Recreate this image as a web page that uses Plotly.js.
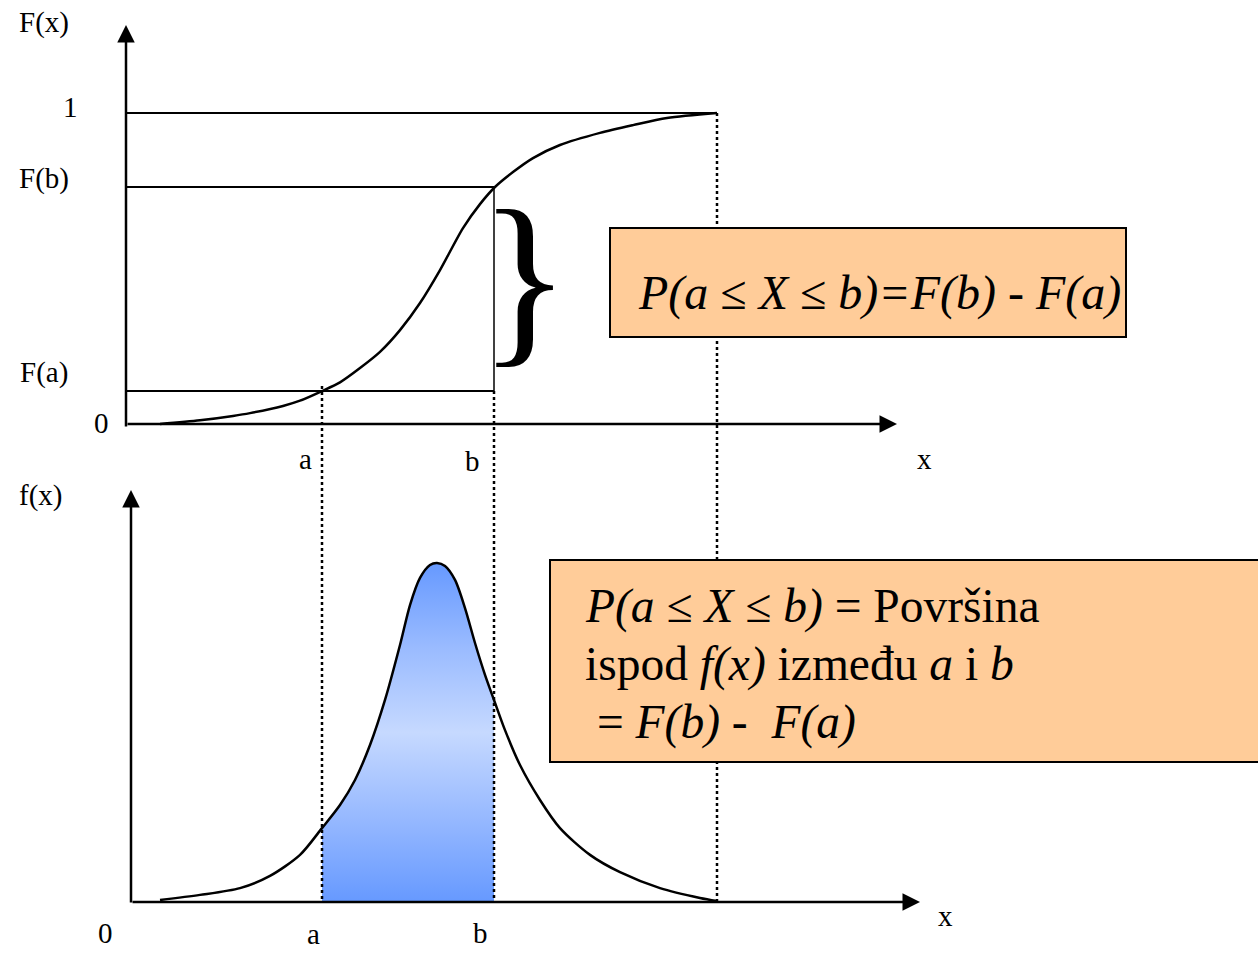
<!DOCTYPE html>
<html>
<head>
<meta charset="utf-8">
<script src="https://cdn.plot.ly/plotly-3.0.1.min.js"></script>
<style>html,body{margin:0;padding:0;background:#fff;}#chart{width:1258px;height:953px;}</style>
</head>
<body>
<div id="chart"></div>
<script>
// ---- data (x in horizontal units, F = cumulative, f = normalised density) ----
const cdfX = [160, 200, 233, 250, 283, 300, 322, 340, 360, 380, 400, 420, 440, 463, 480, 495, 513, 533, 560, 600, 633, 667, 717];
const cdfY = [0.0, 0.012, 0.026, 0.035, 0.058, 0.075, 0.106, 0.134, 0.18, 0.232, 0.302, 0.389, 0.495, 0.63, 0.707, 0.762, 0.81, 0.855, 0.897, 0.936, 0.961, 0.984, 1.0];
const pdfX = [160, 200, 240, 270, 300, 322, 340, 355, 370, 385, 400, 410, 420, 430, 437, 445, 455, 465, 475, 485, 494, 505, 520, 540, 560, 590, 620, 660, 700, 717];
const pdfY = [0.006, 0.021, 0.041, 0.077, 0.139, 0.218, 0.286, 0.36, 0.463, 0.596, 0.758, 0.876, 0.956, 0.994, 1.0, 0.991, 0.95, 0.867, 0.764, 0.67, 0.596, 0.507, 0.404, 0.301, 0.218, 0.139, 0.088, 0.041, 0.012, 0.003];
const aX = 322, bX = 494, endX = 717;
const Fa = 0.106, Fb = 0.762;
const topLabels = ['F(x)', '1', 'F(b)', 'F(a)', '0'];
const botLabels = ['f(x)', '0'];
const formula1 = '<i>P(a ≤ X ≤ b)=F(b) - F(a)</i>';
const formula2Lines = [
  '<i>P(a ≤ X ≤ b)</i> = Površina',
  'ispod <i>f(x)</i> između <i>a</i> i <i>b</i>',
  '\u00A0= <i>F(b) -\u00A0 F(a)</i>'
];

// ---- axis mapping (top axis: F; bottom axis: f) ----
const H = 953;
const topZeroPx = 424, topOnePx = 113;      // pixel rows of F=0 and F=1
const botZeroPx = 902, botPeakPx = 563;     // pixel rows of f=0 and f=1
const topScale = topZeroPx - topOnePx, botScale = botZeroPx - botPeakPx;
const yRange = [(topZeroPx - H) / topScale, topZeroPx / topScale];
const y2Range = [(botZeroPx - H) / botScale, botZeroPx / botScale];
const f2F = v => (topZeroPx - (botZeroPx - v * botScale)) / topScale; // convert f-units to F-units
const px2F = p => (topZeroPx - p) / topScale;
const px2f = p => (botZeroPx - p) / botScale;

const serif = 'Liberation Serif, Times New Roman, serif';

const fillX = [], fillY = [];
pdfX.forEach((x, i) => { if (x >= aX && x <= bX) { fillX.push(x); fillY.push(pdfY[i]); } });

const traces = [
  { x: fillX, y: fillY, yaxis: 'y2', type: 'scatter', mode: 'lines', line: { width: 0, shape: 'spline' },
    fill: 'tozeroy',
    fillgradient: { type: 'vertical', colorscale: [[0, '#6699FF'], [0.25, '#97B9FF'], [0.5, '#C6D9FF'], [0.75, '#9ABBFF'], [1, '#6699FF']] },
    hoverinfo: 'skip', showlegend: false },
  { x: pdfX, y: pdfY, yaxis: 'y2', type: 'scatter', mode: 'lines', line: { color: '#000', width: 2.5, shape: 'spline', smoothing: 0.8 }, hoverinfo: 'skip', showlegend: false },
  { x: cdfX, y: cdfY, yaxis: 'y', type: 'scatter', mode: 'lines', line: { color: '#000', width: 2.5, shape: 'spline', smoothing: 0.8 }, hoverinfo: 'skip', showlegend: false }
];

const ln = (x0, y0, x1, y1, opts) => Object.assign({ type: 'line', xref: 'x', yref: 'y', x0, y0, x1, y1, line: { color: '#000', width: 2 } }, opts || {});
const dotted = { color: '#000', width: 2.5, dash: 'dot' };
const shapes = [
  ln(126, 1, endX, 1),
  ln(126, Fb, bX, Fb),
  ln(126, Fa, bX, Fa),
  ln(bX, Fa, bX, Fb, { line: { color: '#000', width: 1.5 } }),
  ln(aX, px2F(386), aX, f2F(0), { line: dotted }),
  ln(bX, Fa, bX, f2F(0), { line: dotted }),
  ln(endX, 1, endX, f2F(0), { line: dotted }),
  { type: 'rect', xref: 'x', yref: 'y', x0: 610, x1: 1126, y0: px2F(337), y1: px2F(228), fillcolor: '#FFCC99', line: { color: '#000', width: 2 } },
  { type: 'rect', xref: 'x', yref: 'y2', x0: 550, x1: 1265, y0: px2f(762), y1: px2f(560), fillcolor: '#FFCC99', line: { color: '#000', width: 2 } }
];

const arrow = (x, y, ax, ay, yref) => ({ x, y, ax, ay, xref: 'x', yref, axref: 'x', ayref: yref, text: '', showarrow: true, arrowhead: 2, arrowsize: 1.4, arrowwidth: 2.5, arrowcolor: '#000', standoff: 0 });
const lab = (text, x, y, yref, size, extra) => Object.assign({ text, x, y, xref: 'x', yref, showarrow: false, xanchor: 'center', yanchor: 'middle', font: { family: serif, size: size || 29, color: '#000' } }, extra || {});

const annotations = [
  arrow(126, px2F(25), 126, px2F(428), 'y'),
  arrow(897, 0, 126, 0, 'y'),
  arrow(131, px2f(490), 131, px2f(904), 'y2'),
  arrow(920, 0, 131, 0, 'y2'),
  lab(topLabels[0], 44, px2F(22), 'y'),
  lab(topLabels[1], 70, px2F(107), 'y'),
  lab(topLabels[2], 44, px2F(178), 'y'),
  lab(topLabels[3], 44, px2F(372), 'y'),
  lab(topLabels[4], 101, px2F(423), 'y'),
  lab('a', 305, px2F(459), 'y'),
  lab('b', 472, px2F(461), 'y'),
  lab('x', 924, px2F(459), 'y'),
  lab(botLabels[0], 40, px2f(495), 'y2'),
  lab(botLabels[1], 105, px2f(933), 'y2'),
  lab('a', 313, px2f(934), 'y2'),
  lab('b', 480, px2f(933), 'y2'),
  lab('x', 945, px2f(916), 'y2'),
  lab('}', 524, px2F(277), 'y', 190),
  lab(formula1, 636, px2F(293), 'y', 48, { xanchor: 'left' }),
  lab(formula2Lines[0], 583, px2f(606), 'y2', 47.5, { xanchor: 'left', align: 'left' }),
  lab(formula2Lines[1], 583, px2f(664), 'y2', 47.5, { xanchor: 'left', align: 'left' }),
  lab(formula2Lines[2], 583, px2f(722), 'y2', 47.5, { xanchor: 'left', align: 'left' })
];

const layout = {
  width: 1258, height: 953,
  margin: { l: 0, r: 0, t: 0, b: 0 },
  paper_bgcolor: '#fff', plot_bgcolor: '#fff',
  xaxis: { range: [0, 1258], visible: false, fixedrange: true },
  yaxis: { range: yRange, visible: false, fixedrange: true },
  yaxis2: { range: y2Range, visible: false, fixedrange: true, overlaying: 'y' },
  shapes, annotations, showlegend: false
};

Plotly.newPlot('chart', traces, layout, { displayModeBar: false, staticPlot: true });
</script>
</body>
</html>
